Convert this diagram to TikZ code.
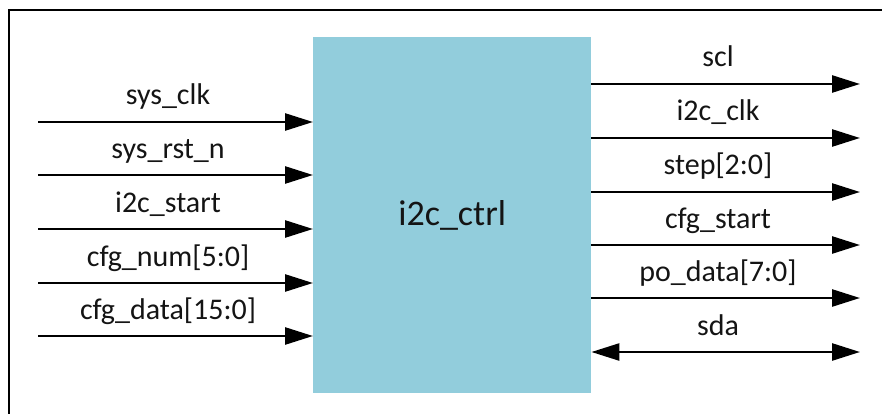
\documentclass[tikz,border=0pt]{standalone}
\usepackage{fontspec}
\setmainfont{Carlito}
\usetikzlibrary{arrows.meta}
\definecolor{blk}{HTML}{92CDDC}
\definecolor{txt}{HTML}{141414}
\begin{document}
\begin{tikzpicture}[x=1pt,y=-1pt,
  tip/.tip={Triangle[length=28pt,width=17pt]},
  sig/.style={line width=2.6pt,-tip},
  bisig/.style={line width=2.6pt,tip-tip},
  lbl/.style={font=\fontsize{30}{36}\selectfont, text=txt, anchor=base, inner sep=0pt}]
\useasboundingbox (0,0) rectangle (882,414);
\draw[line width=2.8pt] (9,414) -- (9,10) -- (882,10);
\node[fill=blk, minimum width=278pt, minimum height=356pt, inner sep=0pt, anchor=north west] (ctrl) at (313,37) {};
\node[font=\fontsize{36}{42}\selectfont, text=txt] (ctrlname) at (ctrl.center) {i2c\_ctrl};
\foreach \y/\t/\n in {122/sys\_clk/a, 175/sys\_rst\_n/b, 229/i2c\_start/c, 283/cfg\_num[5:0]/d, 336/cfg\_data[15:0]/e}{
  \coordinate (i\n) at (38,\y);
  \draw[sig] (i\n) -- (i\n -| ctrl.west);
  \node[lbl] (li\n) at (168,\y-17) {\t};
}
\foreach \y/\t/\n in {84/scl/a, 138/i2c\_clk/b, 192/step[2:0]/c, 245/cfg\_start/d, 298/po\_data[7:0]/e}{
  \coordinate (o\n) at (860,\y);
  \draw[sig] (o\n -| ctrl.east) -- (o\n);
  \node[lbl] (lo\n) at (718,\y-17) {\t};
}
\coordinate (of) at (860,352);
\draw[bisig] (of -| ctrl.east) -- (of);
\node[lbl] (lof) at (718,335) {sda};
\end{tikzpicture}
\end{document}
